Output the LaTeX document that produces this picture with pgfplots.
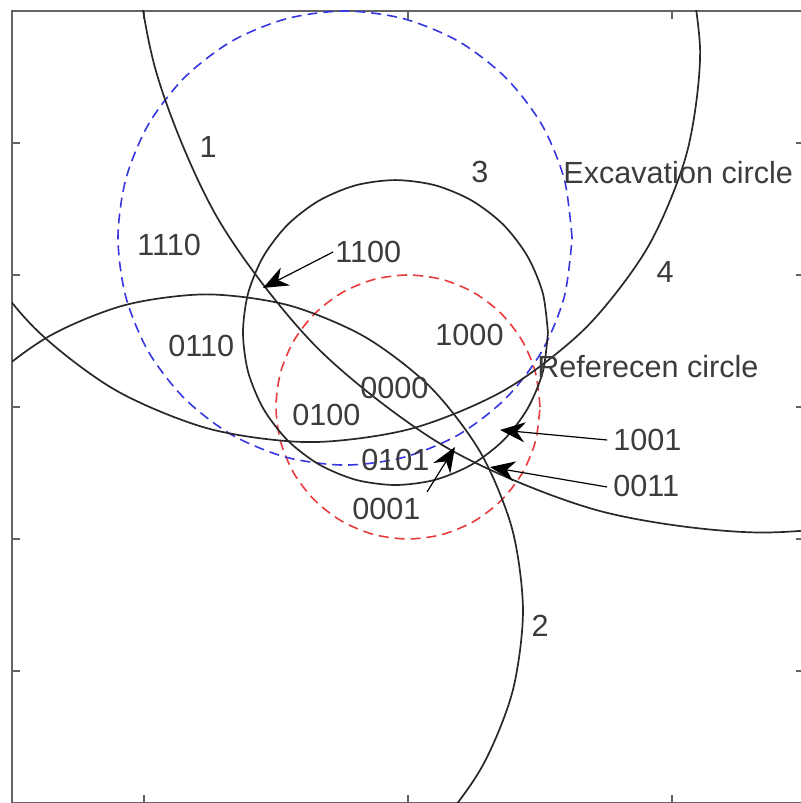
\documentclass[border=0pt]{standalone}
\usepackage{pgfplots}
\pgfplotsset{compat=1.18}
\usetikzlibrary{arrows.meta}
\usepackage{fontspec}
\setmainfont{Liberation Sans}
\definecolor{curve}{RGB}{40,40,40}
\definecolor{txt}{RGB}{60,60,60}
\definecolor{exc}{RGB}{55,55,225}
\definecolor{refc}{RGB}{232,60,60}
\definecolor{frame}{RGB}{100,100,100}
\tikzset{
  lbl/.style={font=\fontsize{15.3}{18}\selectfont, text=txt, inner sep=0pt},
  arr/.style={black, line width=0.6pt, -{Stealth[length=12.5pt, width=10pt, inset=4pt]}},
}
\begin{document}
\begin{tikzpicture}
\begin{axis}[name=ax, scale only axis, width=396pt, height=396pt,
  xmin=-3, xmax=3, ymin=-3, ymax=3,
  xtick={-2,0,2}, ytick={-2,-1,0,1,2},
  xticklabels={}, yticklabels={},
  tick align=inside, major tick length=4pt,
  axis line style={frame, line width=1pt},
  every tick/.style={frame, line width=0.8pt},
]
% reference circle (red dashed)
\addplot[refc, line width=0.8pt, dash pattern=on 5pt off 3pt, smooth] coordinates {
(1,0) (0.966,0.259) (0.866,0.5) (0.707,0.707) (0.5,0.866) (0.259,0.966) (0,1)
(-0.259,0.966) (-0.5,0.866) (-0.707,0.707) (-0.866,0.5) (-0.966,0.259) (-1,0)
(-0.966,-0.259) (-0.866,-0.5) (-0.707,-0.707) (-0.5,-0.866) (-0.259,-0.966) (0,-1)
(0.259,-0.966) (0.5,-0.866) (0.707,-0.707) (0.866,-0.5) (0.966,-0.259) (1,0)};
% excavation circle (blue dashed)
\addplot[exc, line width=0.8pt, dash pattern=on 5pt off 3pt, smooth] coordinates {
(1.243,1.28) (1.184,1.725) (1.013,2.14) (0.739,2.496) (0.383,2.77) (-0.032,2.941) (-0.477,3.0)
(-0.922,2.941) (-1.337,2.77) (-1.693,2.496) (-1.967,2.14) (-2.138,1.725) (-2.197,1.28)
(-2.138,0.835) (-1.967,0.42) (-1.693,0.064) (-1.337,-0.21) (-0.922,-0.381) (-0.477,-0.44)
(-0.032,-0.381) (0.383,-0.21) (0.739,0.064) (1.013,0.42) (1.184,0.835) (1.243,1.28)};
% circle 3
\addplot[curve, line width=0.85pt, smooth] coordinates {
(1.060,0.564) (1.021,0.863) (0.905,1.142) (0.722,1.381) (0.483,1.564) (0.204,1.680) (-0.095,1.719)
(-0.394,1.680) (-0.673,1.564) (-0.912,1.381) (-1.095,1.142) (-1.211,0.863) (-1.250,0.564)
(-1.211,0.265) (-1.095,-0.014) (-0.912,-0.253) (-0.673,-0.436) (-0.394,-0.552) (-0.095,-0.591)
(0.204,-0.552) (0.483,-0.436) (0.722,-0.253) (0.905,-0.014) (1.021,0.265) (1.060,0.564)};
% circle 4
\addplot[curve, line width=0.85pt, smooth] coordinates {
(-3.596,3.454) (-3.697,2.689) (-3.596,1.924) (-3.301,1.211) (-2.831,0.600) (-2.220,0.130)
(-1.507,-0.165) (-0.742,-0.266) (0.023,-0.165) (0.736,0.130) (1.347,0.600) (1.817,1.211)
(2.112,1.924) (2.213,2.689) (2.112,3.454)};
% circle 2
\addplot[curve, line width=0.85pt, smooth] coordinates {
(-1.527,-3.943) (-0.906,-3.861) (-0.328,-3.622) (0.169,-3.241) (0.550,-2.744) (0.789,-2.166)
(0.871,-1.545) (0.789,-0.924) (0.550,-0.346) (0.169,0.151) (-0.328,0.532) (-0.906,0.771)
(-1.527,0.853) (-2.148,0.771) (-2.726,0.532) (-3.223,0.151) (-3.604,-0.346)};
% circle 1
\addplot[curve, line width=0.85pt, smooth] coordinates {
(-1.921,5.057) (-2.084,3.822) (-1.921,2.587) (-1.445,1.435) (-0.686,0.447) (0.302,-0.313)
(1.454,-0.788) (2.689,-0.951) (3.924,-0.788) (5.076,-0.313)};
% arrows
\addplot[arr] coordinates {(-0.568,1.174) (-1.098,0.902)};
\addplot[arr] coordinates {(1.508,-0.25) (0.697,-0.174)};
\addplot[arr] coordinates {(1.508,-0.606) (0.621,-0.455)};
\addplot[arr] coordinates {(0.144,-0.644) (0.356,-0.303)};
% labels
\node[lbl] at (axis cs:-1.515,1.97) {1};
\node[lbl] at (axis cs:0.545,1.78) {3};
\node[lbl] at (axis cs:1.947,1.023) {4};
\node[lbl] at (axis cs:1.0,-1.66) {2};
\node[lbl, anchor=west] at (axis cs:1.174,1.773) {Excavation circle};
\node[lbl, anchor=west] at (axis cs:0.977,0.303) {Referecen circle};
\node[lbl, anchor=west] at (axis cs:-2.053,1.227) {1110};
\node[lbl, anchor=west] at (axis cs:-0.553,1.178) {1100};
\node[lbl, anchor=west] at (axis cs:-1.818,0.462) {0110};
\node[lbl, anchor=west] at (axis cs:0.205,0.545) {1000};
\node[lbl, anchor=west] at (axis cs:-0.364,0.144) {0000};
\node[lbl, anchor=west] at (axis cs:-0.879,-0.061) {0100};
\node[lbl, anchor=west] at (axis cs:-0.356,-0.402) {0101};
\node[lbl, anchor=west] at (axis cs:-0.424,-0.773) {0001};
\node[lbl, anchor=west] at (axis cs:1.553,-0.25) {1001};
\node[lbl, anchor=west] at (axis cs:1.553,-0.60) {0011};
\end{axis}
\pgfresetboundingbox
\useasboundingbox ([xshift=-6pt]ax.south west) rectangle ([xshift=-2pt,yshift=5.5pt]ax.north east);
\end{tikzpicture}
\end{document}
